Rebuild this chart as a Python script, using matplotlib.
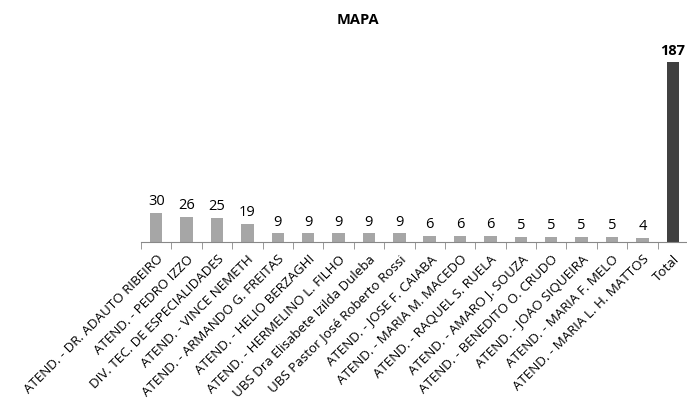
import numpy as np
import matplotlib
matplotlib.use("Agg")
import matplotlib.pyplot as plt

labels = [
    "ATEND. - DR. ADAUTO RIBEIRO",
    "ATEND. - PEDRO IZZO",
    "DIV. TEC. DE ESPECIALIDADES",
    "ATEND. - VINCE NEMETH",
    "ATEND. - ARMANDO G. FREITAS",
    "ATEND. - HELIO BERZAGHI",
    "ATEND. - HERMELINO L. FILHO",
    "UBS Dra Elisabete Izilda Duleba",
    "UBS Pastor José Roberto Rossi",
    "ATEND. - JOSE F. CAIABA",
    "ATEND. - MARIA M. MACEDO",
    "ATEND. - RAQUEL S. RUELA",
    "ATEND. - AMARO J. SOUZA",
    "ATEND. - BENEDITO O. CRUDO",
    "ATEND. - JOAO SIQUEIRA",
    "ATEND. - MARIA F. MELO",
    "ATEND. - MARIA L. H. MATTOS",
    "Total",
]
values = [30, 26, 25, 19, 9, 9, 9, 9, 9, 6, 6, 6, 5, 5, 5, 5, 4, 187]

plt.rcParams["font.family"] = ["Open Sans", "DejaVu Sans"]

fig = plt.figure(figsize=(6.87, 4.10), dpi=100)
ax = fig.add_axes([141 / 687, 167 / 410, 547 / 687, 192.5 / 410])

x = np.arange(len(values))
colors = ["#a6a6a6"] * (len(values) - 1) + ["#404040"]
ax.bar(x, values, width=0.41, color=colors)

for i, v in enumerate(values):
    last = i == len(values) - 1
    ax.text(i, v + 5, str(v), ha="center", va="bottom", fontsize=10.5,
            fontweight="bold" if last else "normal", color="black")

ax.set_xlim(-0.5, len(values) - 0.5)
ax.set_ylim(0, 200)
ax.set_yticks([])
for s in ("top", "right", "left"):
    ax.spines[s].set_visible(False)
ax.spines["bottom"].set_color("#888888")

ax.set_xticks(x)
ax.set_xticklabels(labels, rotation=45, ha="right", rotation_mode="anchor",
                   fontsize=9.6)
ax.tick_params(axis="x", length=0, pad=7)
ax.set_xticks(np.arange(len(values) + 1) - 0.5, minor=True)
ax.tick_params(axis="x", which="minor", length=5, color="#888888")

fig.text(358 / 687, 1 - 20 / 410, "MAPA", ha="center", va="center",
         fontsize=10.5, fontweight="bold")

fig.savefig("out.png", dpi=100)
